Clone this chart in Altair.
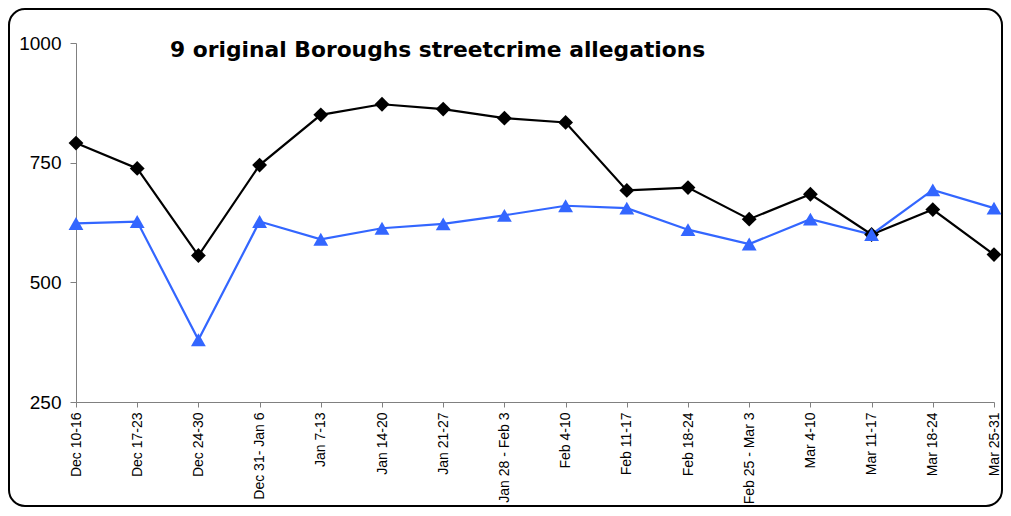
import altair as alt
import pandas as pd

weeks = ["Dec 10-16", "Dec 17-23", "Dec 24-30", "Dec 31- Jan 6", "Jan 7-13", "Jan 14-20",
         "Jan 21-27", "Jan 28 - Feb 3", "Feb 4-10", "Feb 11-17", "Feb 18-24",
         "Feb 25 - Mar 3", "Mar 4-10", "Mar 11-17", "Mar 18-24", "Mar 25-31"]
series_a = [791, 738, 556, 745, 850, 872, 862, 843, 834, 692, 698, 632, 684, 600, 652, 558]
series_b = [623, 627, 380, 627, 590, 613, 622, 640, 660, 655, 610, 580, 632, 600, 693, 655]
series_names = ["Series A", "Series B"]
series_colors = ["#000000", "#3366FF"]
series_shapes = ["diamond", "triangle-up"]
title_text = "9 original Boroughs streetcrime allegations"

rows = []
for i, w in enumerate(weeks):
    rows.append({"week": w, "value": series_a[i], "series": series_names[0]})
    rows.append({"week": w, "value": series_b[i], "series": series_names[1]})
df = pd.DataFrame(rows)

W, H = 918, 359

x_enc = alt.X("week:N", sort=weeks, scale=alt.Scale(type="point", padding=0),
              axis=alt.Axis(title=None, labelAngle=-90, labelAlign="right", labelBaseline="middle",
                            labelFontSize=14, labelFont="Liberation Sans", labelColor="#000000",
                            labelPadding=5, tickSize=5, tickColor="#808080", domainColor="#808080",
                            labelOverlap=False, grid=False))
y_enc = alt.Y("value:Q", scale=alt.Scale(domain=[250, 1000], nice=False, zero=False),
              axis=alt.Axis(title=None, values=[250, 500, 750, 1000], grid=False, format="d",
                            labelFontSize=19, labelFont="Liberation Sans", labelColor="#000000",
                            labelPadding=9, tickSize=6, tickColor="#808080", domainColor="#808080"))
color_enc = alt.Color("series:N", scale=alt.Scale(domain=series_names, range=series_colors), legend=None)
shape_enc = alt.Shape("series:N", scale=alt.Scale(domain=series_names, range=series_shapes), legend=None)

lines = alt.Chart(df).mark_line(strokeWidth=2.2).encode(x=x_enc, y=y_enc, color=color_enc,
                                                          detail="series:N")
points = alt.Chart(df).mark_point(filled=True, size=220, opacity=1).encode(
    x=x_enc, y=y_enc, color=color_enc, shape=shape_enc)

title = alt.Chart(pd.DataFrame({"t": [title_text]})).mark_text(
    align="left", baseline="alphabetic", fontSize=21.8, fontWeight="bold",
    font="DejaVu Sans", color="#000000").encode(
    text="t:N", x=alt.value(94), y=alt.value(14))

border = alt.Chart(pd.DataFrame({"a": [0]})).mark_rect(
    fill=None, stroke="#000000", strokeWidth=2, cornerRadius=16).encode(
    x=alt.value(-67), x2=alt.value(926), y=alt.value(-34), y2=alt.value(463))

chart = alt.layer(border, lines, points, title).properties(
    width=W, height=H,
    background="#ffffff",
    autosize=alt.AutoSizeParams(type="none"),
    padding={"left": 68, "top": 35, "right": 9, "bottom": 106},
).configure_view(stroke=None)

chart.save("out.html", embed_options={"renderer": "svg", "actions": False})
